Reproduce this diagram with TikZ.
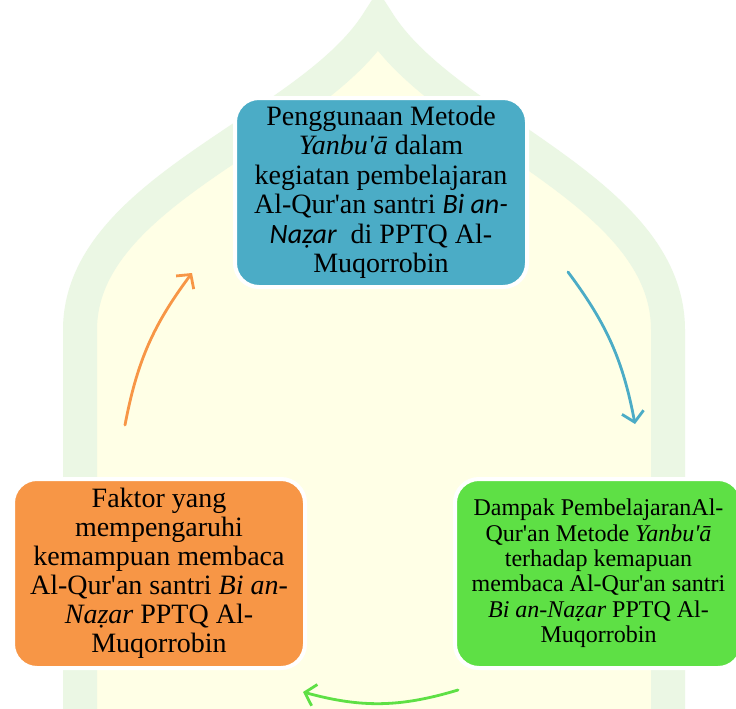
\documentclass[tikz,border=0pt]{standalone}
\usepackage{fontspec}
\setmainfont{Liberation Serif}[Ligatures=TeXOff]
\newfontfamily\calib{Carlito}[Ligatures=TeXOff]
\usetikzlibrary{arrows.meta}
\definecolor{cblue}{HTML}{4BACC6}
\definecolor{corange}{HTML}{F79646}
\definecolor{cgreen}{HTML}{5EE045}
\definecolor{archgreen}{HTML}{EBF7E4}
\definecolor{archyellow}{HTML}{FFFFE6}
\tikzset{
  box/.style={draw=white, line width=4pt, rounded corners=24pt, align=center, inner sep=0pt, text=black},
  cyc/.style={line width=2.8pt, line cap=round, -{Straight Barb[length=10pt,width=22pt,line width=2.8pt]}},
}
\begin{document}
\begin{tikzpicture}[x=1pt,y=1pt]
\useasboundingbox (0,0) rectangle (736,-709);
\fill[white] (0,0) rectangle (736,-709);
% faint watermark arch
\fill[archyellow] (80,-709) -- (80,-330) .. controls (80,-190) and (310,-130) .. (378,-22) .. controls (446,-130) and (668,-190) .. (668,-330) -- (668,-709) -- cycle;
\draw[archgreen, line width=34pt] (80,-720) -- (80,-330) .. controls (80,-190) and (310,-130) .. (378,-22) .. controls (446,-130) and (668,-190) .. (668,-330) -- (668,-720);
% boxes
\node[box, fill=cblue, minimum width=292pt, minimum height=189pt,
  font=\fontsize{28}{29.5}\selectfont] (top) at (381,-192.5)
  {Penggunaan Metode\\ {\itshape Yanbu'ā} dalam\\ kegiatan pembelajaran\\ Al-Qur'an santri {\calib\itshape Bi an-}\\ {\calib\itshape Naẓar}\ \ di PPTQ Al-\\ Muqorrobin};
\node[box, fill=cgreen, minimum width=287pt, minimum height=189pt,
  font=\fontsize{24}{25.4}\selectfont] (right) at (598.5,-573.5)
  {Dampak PembelajaranAl-\\ Qur'an Metode {\itshape Yanbu'ā}\\ terhadap kemapuan\\ membaca Al-Qur'an santri\\ {\itshape Bi an-Naẓar} PPTQ Al-\\ Muqorrobin};
\node[box, fill=corange, minimum width=292pt, minimum height=189pt,
  font=\fontsize{28}{29}\selectfont] (left) at (159,-573.5)
  {Faktor yang\\ mempengaruhi\\ kemampuan membaca\\ Al-Qur'an santri {\itshape Bi an-}\\ {\itshape Naẓar} PPTQ Al-\\ Muqorrobin};
% arrow end points
\coordinate (b1) at (568,-272);
\coordinate (b2) at (635,-424);
\coordinate (g1) at (458,-690);
\coordinate (g2) at (303,-692);
\coordinate (o1) at (125,-425);
\coordinate (o2) at (192,-273);
\draw[cyc, cblue] (b1) to[bend left=13] (b2);
\draw[cyc, cgreen] (g1) to[bend left=16] (g2);
\draw[cyc, corange] (o1) to[bend left=13] (o2);
\end{tikzpicture}
\end{document}
